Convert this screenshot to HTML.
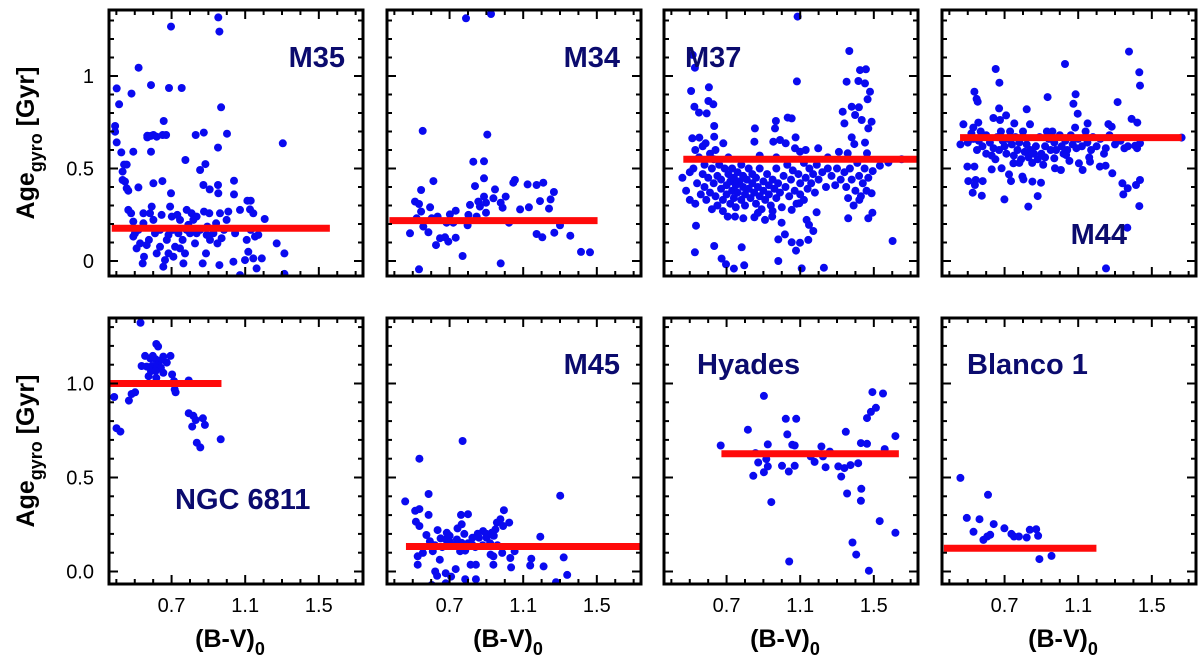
<!DOCTYPE html>
<html><head><meta charset="utf-8">
<style>
html,body{margin:0;padding:0;background:#fff;}
svg{display:block;font-family:"Liberation Sans",Arial,sans-serif;}
</style></head>
<body>
<svg id="chart" width="1200" height="666" viewBox="0 0 1200 666" xmlns="http://www.w3.org/2000/svg"></svg>
<script>
// ---- data (B-V)_0 and Age_gyro [Gyr] ----
const clusterNames = ["M35","M34","M37","M44","NGC 6811","M45","Hyades","Blanco 1"];
const meanAges = [0.177,0.218,0.55,0.667,1.0,0.133,0.626,0.124];
const meanFrom = [0.375,0.373,0.465,0.458,0.368,0.463,0.672,0.37];
const meanTo   = [1.56,1.504,1.74,1.662,0.971,1.74,1.636,1.199];
const xTicks = [0.7,1.1,1.5];
const xTickLabels = ["0.7","1.1","1.5"];
const yTicksTop = [0,0.5,1];
const yTickLabelsTop = ["0","0.5","1"];
const yTicksBottom = [0,0.5,1];
const yTickLabelsBottom = ["0.0","0.5","1.0"];

const m35 = [[0.954,1.317],[0.96,1.24],[0.697,1.267],[0.521,1.045],[0.402,0.933],[0.415,0.847],[0.482,0.905],[0.588,0.951],[0.686,0.935],[0.755,0.935],[0.969,0.831],[1.304,0.636],[0.393,0.73],[0.393,0.699],[0.402,0.641],[0.427,0.587],[0.492,0.591],[0.442,0.521],[0.456,0.521],[0.434,0.483],[0.434,0.438],[0.447,0.429],[0.456,0.393],[0.465,0.38],[0.52,0.398],[0.568,0.677],[0.587,0.676],[0.601,0.681],[0.619,0.672],[0.652,0.681],[0.67,0.681],[0.657,0.757],[0.568,0.668],[0.588,0.591],[0.601,0.42],[0.65,0.432],[0.697,0.366],[0.775,0.546],[0.831,0.681],[0.875,0.694],[0.884,0.524],[0.855,0.492],[0.873,0.411],[0.907,0.387],[0.952,0.411],[0.954,0.366],[0.952,0.613],[1.001,0.688],[1.039,0.434],[1.039,0.36],[1.112,0.326],[1.13,0.326],[1.126,0.279],[1.144,0.258],[1.206,0.227],[1.271,0.095],[1.313,0.041],[1.313,-0.07],
[0.465,0.276],[0.48,0.258],[0.492,0.213],[0.501,0.15],[0.51,0.068],[0.529,0.095],[0.543,-0.013],[0.55,0.023],[0.565,0.086],[0.577,0.114],[0.583,0.258],[0.592,0.294],[0.601,0.222],[0.61,0.15],[0.619,0.041],[0.637,0.168],[0.646,0.249],[0.655,-0.031],[0.664,0.005],[0.674,0.114],[0.683,0.141],[0.701,0.24],[0.706,0.168],[0.71,0.023],[0.719,0.077],[0.731,0.249],[0.737,0.15],[0.746,0.222],[0.76,0.114],[0.764,-0.013],[0.773,0.041],[0.782,0.168],[0.791,0.195],[0.8,0.15],[0.809,0.258],[0.818,0.222],[0.827,0.095],[0.836,0.15],[0.855,0.168],[0.869,-0.013],[0.876,0.267],[0.887,0.041],[0.894,0.186],[0.905,0.258],[0.909,0.114],[0.927,0.15],[0.942,0.204],[0.949,0.095],[0.96,-0.022],[0.972,0.123],[0.985,0.168],[0.999,0.222],[1.008,0.267],[1.036,-0.004],[1.045,0.168],[1.072,-0.076],[1.099,0.005],[1.108,0.114],[1.117,0.05],[1.13,0.168],[1.144,0.014],[1.153,0.132],[1.162,-0.04],[1.171,0.141],[1.19,0.014],[0.492,0.132],[0.52,0.168],[0.547,0.204],[0.637,0.077],[0.683,0.041],[0.746,0.068],[0.782,0.276],[0.836,0.24],[0.891,0.141],[0.963,0.258],[1.045,0.15],[1.072,0.276],[0.547,0.258],[0.692,0.294]];

const m34 = [[0.789,1.312],[0.925,1.335],[0.554,0.703],[0.905,0.683],[0.829,0.537],[0.887,0.539],[0.887,0.447],[0.612,0.432],[0.838,0.405],[0.545,0.384],[0.512,0.321],[0.534,0.308],[0.545,0.267],[0.594,0.29],[0.521,0.231],[0.603,0.231],[0.635,0.24],[0.702,0.252],[0.733,0.272],[0.802,0.249],[0.811,0.303],[0.856,0.321],[0.865,0.294],[0.887,0.348],[0.898,0.315],[0.898,0.261],[0.938,0.339],[0.947,0.387],[0.978,0.315],[0.988,0.288],[1.005,0.348],[1.046,0.423],[1.055,0.438],[1.083,0.279],[1.124,0.414],[1.131,0.29],[1.173,0.411],[1.191,0.324],[1.209,0.423],[1.24,0.283],[1.249,0.333],[1.267,0.373],[1.3,0.193],[1.269,0.153],[1.173,0.146],[1.204,0.128],[1.356,0.137],[1.414,0.049],[1.463,0.047],[0.485,0.15],[0.557,0.186],[0.585,0.155],[0.626,0.086],[0.648,0.123],[0.675,0.128],[0.693,0.105],[0.733,0.126],[0.684,0.207],[0.72,0.207],[0.798,0.193],[0.847,0.24],[1.023,0.207],[0.771,0.027],[0.978,-0.013],[0.534,-0.045]];

const m37 = [[1.086,1.321],[1.367,1.135],[0.516,1.114],[0.528,1.045],[1.082,0.971],[0.507,0.919],[0.604,0.939],[1.352,0.969],[1.416,0.973],[1.425,1.032],[1.457,1.036],[1.452,0.96],[1.479,0.915],[0.525,0.834],[0.55,0.802],[0.592,0.798],[0.601,0.865],[0.628,0.847],[0.633,0.73],[0.514,0.663],[0.552,0.667],[0.586,0.636],[0.633,0.672],[0.682,0.636],[0.854,0.717],[0.851,0.645],[0.963,0.717],[0.968,0.757],[1.032,0.775],[1.054,0.771],[1.075,0.668],[0.954,0.645],[0.99,0.654],[1.021,0.636],[1.072,0.609],[1.099,0.591],[1.198,0.609],[1.331,0.807],[1.34,0.744],[1.38,0.834],[1.398,0.789],[1.419,0.831],[1.466,0.874],[1.434,0.762],[1.47,0.717],[1.488,0.753],[1.38,0.668],[1.394,0.632],[1.452,0.64],[1.358,0.582],[1.463,0.582],
[0.534,0.191],[0.528,0.047],[0.633,0.081],[0.673,0.013],[0.697,-0.018],[0.74,-0.041],[0.782,0.074],[0.796,-0.023],[0.981,0.117],[0.981,0],[1.017,0.144],[1.054,0.101],[1.077,0.056],[1.099,0.099],[1.108,-0.04],[1.144,0.114],[1.171,0.162],[1.189,0.263],[1.229,-0.036],[1.602,0.108],[1.361,0.231],[1.47,0.231],[1.492,0.261],[1.488,0.366],[1.421,0.33],[1.494,0.486],[1.533,0.515],[1.579,0.532],[1.651,0.55],[0.706,0.24],[0.746,0.24],[0.791,0.231],[0.851,0.236],[0.909,0.222],[0.948,0.24],[0.999,0.207],[1.054,0.276],[1.095,0.312],[1.135,0.222],[1.148,0.195],
[0.46,0.45],[0.48,0.38],[0.5,0.48],[0.5,0.33],[0.52,0.5],[0.53,0.31],[0.54,0.42],[0.55,0.56],[0.56,0.36],[0.57,0.47],[0.58,0.52],[0.58,0.4],[0.59,0.33],[0.6,0.45],[0.61,0.58],[0.61,0.37],[0.62,0.5],[0.63,0.42],[0.63,0.55],[0.64,0.35],[0.65,0.46],[0.65,0.3],[0.66,0.52],[0.67,0.39],[0.67,0.44],[0.68,0.33],[0.68,0.27],[0.69,0.5],[0.7,0.41],[0.7,0.36],[0.71,0.47],[0.71,0.56],[0.72,0.31],[0.72,0.43],[0.73,0.38],[0.73,0.5],[0.74,0.34],[0.74,0.45],[0.75,0.41],[0.75,0.29],[0.76,0.48],[0.76,0.37],[0.77,0.43],[0.78,0.33],[0.78,0.52],[0.79,0.4],[0.79,0.46],[0.8,0.36],[0.8,0.3],[0.81,0.44],[0.82,0.39],[0.82,0.5],[0.83,0.34],[0.84,0.42],[0.84,0.47],[0.85,0.37],[0.86,0.31],[0.86,0.45],[0.87,0.4],[0.88,0.35],[0.88,0.5],[0.89,0.28],[0.9,0.43],[0.9,0.38],[0.91,0.33],[0.92,0.47],[0.93,0.41],[0.93,0.36],[0.94,0.3],[0.95,0.44],[0.96,0.39],[0.97,0.34],[0.97,0.5],[0.98,0.42],[0.99,0.37],[1.0,0.29],[1.01,0.46],[1.02,0.4],[1.03,0.52],[1.04,0.35],[1.05,0.44],[1.06,0.49],[1.07,0.38],[1.08,0.31],[1.09,0.47],[1.1,0.42],[1.12,0.53],[1.13,0.45],[1.14,0.39],[1.15,0.5],[1.16,0.42],[1.17,0.47],[1.18,0.37],[1.19,0.52],[1.2,0.44],[1.22,0.48],[1.24,0.4],[1.25,0.5],[1.27,0.46],[1.29,0.41],[1.3,0.5],[1.32,0.44],[1.34,0.48],[1.35,0.4],[1.36,0.34],[1.37,0.5],[1.38,0.44],[1.39,0.3],[1.4,0.38],[1.41,0.53],[1.42,0.46],[1.43,0.35],[1.44,0.42],[1.45,0.5],[1.46,0.38],[1.47,0.45],[1.1,0.36],[1.12,0.33],[0.95,0.27],[0.87,0.26],[0.62,0.28],[0.53,0.6],[0.57,0.62],[0.64,0.6],[0.88,0.57],[0.97,0.56],[1.13,0.6],[1.25,0.56],[1.31,0.59]];

const m44 = [[1.376,1.132],[1.028,1.065],[0.652,1.038],[1.432,1.02],[0.672,0.964],[1.436,0.948],[0.536,0.915],[0.934,0.886],[1.086,0.901],[0.548,0.876],[0.554,0.861],[1.314,0.859],[1.074,0.85],[0.67,0.825],[0.82,0.82],[1.097,0.796],[0.708,0.787],[0.639,0.773],[0.675,0.762],[1.39,0.768],[1.421,0.748],[0.476,0.739],[0.557,0.748],[0.753,0.744],[0.838,0.739],[1.151,0.744],[1.264,0.74],[1.282,0.726],[0.53,0.721],[1.083,0.721],
[0.498,0.51],[0.503,0.432],[0.536,0.51],[0.543,0.438],[0.539,0.411],[0.581,0.432],[0.527,0.369],[0.576,0.353],[0.63,0.495],[0.684,0.501],[0.699,0.333],[0.724,0.468],[0.735,0.432],[0.748,0.528],[0.797,0.456],[0.802,0.441],[0.829,0.294],[0.851,0.429],[0.88,0.351],[0.898,0.423],[0.97,0.555],[0.974,0.501],[1.006,0.492],[1.034,0.573],[1.052,0.541],[1.104,0.528],[1.124,0.492],[1.164,0.537],[1.218,0.51],[1.249,0.515],[1.285,0.474],[1.34,0.42],[1.345,0.36],[1.369,0.393],[1.414,0.411],[1.436,0.438],[1.432,0.297],[1.367,0.18],[1.251,-0.04],[1.351,0.609],[1.409,0.623],[1.436,0.636],[1.662,0.667],
[0.46,0.63],[0.5,0.64],[0.52,0.69],[0.55,0.6],[0.56,0.65],[0.57,0.7],[0.58,0.62],[0.6,0.58],[0.6,0.68],[0.62,0.64],[0.63,0.57],[0.64,0.61],[0.66,0.67],[0.67,0.6],[0.68,0.7],[0.69,0.65],[0.7,0.62],[0.71,0.58],[0.72,0.66],[0.73,0.7],[0.74,0.63],[0.75,0.57],[0.76,0.67],[0.77,0.6],[0.78,0.64],[0.79,0.55],[0.8,0.7],[0.81,0.59],[0.82,0.63],[0.83,0.56],[0.84,0.6],[0.85,0.53],[0.86,0.58],[0.87,0.62],[0.88,0.55],[0.89,0.67],[0.9,0.58],[0.91,0.52],[0.92,0.62],[0.93,0.7],[0.94,0.66],[0.95,0.6],[0.96,0.7],[0.97,0.64],[0.98,0.6],[1.0,0.68],[1.01,0.62],[1.03,0.65],[1.04,0.6],[1.06,0.68],[1.07,0.63],[1.09,0.61],[1.1,0.66],[1.12,0.62],[1.14,0.7],[1.15,0.64],[1.17,0.6],[1.18,0.67],[1.2,0.62],[1.22,0.66],[1.25,0.61],[1.27,0.68],[1.3,0.63],[1.33,0.65],[1.37,0.62],[1.42,0.61],[0.53,0.66],[0.65,0.55],[0.78,0.53],[0.92,0.56],[1.02,0.58],[1.16,0.56],[1.24,0.58]];

const ngc6811 = [[0.531,1.323],[0.617,1.21],[0.627,1.197],[0.556,1.147],[0.585,1.133],[0.598,1.147],[0.655,1.143],[0.694,1.147],[0.674,1.111],[0.613,1.129],[0.636,1.12],[0.537,1.093],[0.565,1.09],[0.594,1.093],[0.623,1.097],[0.642,1.084],[0.588,1.066],[0.613,1.066],[0.655,1.057],[0.575,1.039],[0.617,1.03],[0.703,1.048],[0.713,1.013],[0.793,1.016],[0.717,0.968],[0.722,0.953],[0.502,0.953],[0.483,0.944],[0.468,0.909],[0.388,0.928],[0.793,0.842],[0.818,0.828],[0.831,0.806],[0.87,0.815],[0.881,0.78],[0.812,0.771],[0.837,0.685],[0.856,0.66],[0.967,0.703],[0.401,0.762],[0.422,0.744]];

const m45 = [[0.771,0.694],[0.536,0.6],[0.459,0.373],[0.586,0.412],[1.301,0.403],[0.513,0.323],[0.536,0.332],[0.517,0.265],[0.586,0.301],[0.536,0.242],[0.574,0.194],[0.635,0.22],[0.685,0.206],[0.762,0.301],[0.8,0.305],[0.766,0.251],[0.743,0.229],[0.995,0.326],[0.976,0.278],[0.957,0.26],[1.024,0.26],[0.991,0.242],[0.949,0.224],[0.929,0.206],[0.882,0.215],[0.853,0.201],[0.824,0.179],[0.901,0.179],[1.193,0.185],[0.593,0.161],[0.651,0.176],[0.699,0.161],[0.766,0.152],[0.823,0.143],[0.527,0.081],[0.555,0.099],[0.527,0.036],[0.609,0.108],[0.647,0.063],[0.757,0.108],[0.785,0.111],[0.814,0.036],[0.843,0.036],[0.923,0.09],[0.938,0.081],[0.986,0.099],[1.03,0.072],[1.053,0.108],[1.034,0.022],[0.938,0.036],[1.138,0.032],[1.144,0.068],[1.211,0.027],[1.32,0.075],[1.339,-0.018],[1.278,-0.057],[0.622,0],[0.632,-0.023],[0.679,-0.009],[0.708,-0.027],[0.733,0.013],[0.785,-0.041],[0.843,-0.041],[0.679,-0.063],[0.603,-0.072],[0.62,0.14],[0.66,0.13],[0.7,0.19],[0.72,0.14],[0.74,0.17],[0.78,0.2],[0.8,0.15],[0.84,0.13],[0.86,0.18],[0.88,0.14],[0.9,0.2],[0.92,0.15],[0.94,0.19],[0.96,0.14],[0.68,0.17],[0.76,0.12]];

const hyades = [[0.668,0.67],[0.816,0.754],[0.903,0.934],[0.845,0.509],[0.872,0.58],[0.903,0.528],[0.916,0.598],[0.924,0.676],[0.924,0.559],[0.943,0.369],[1.001,0.562],[1.022,0.812],[1.03,0.729],[1.038,0.532],[1.04,0.053],[1.057,0.674],[1.07,0.67],[1.07,0.562],[1.078,0.812],[0.857,0.63],[1.157,0.612],[1.178,0.583],[1.215,0.665],[1.224,0.612],[1.238,0.555],[1.261,0.638],[1.307,0.559],[1.323,0.505],[1.34,0.55],[1.348,0.743],[1.355,0.415],[1.373,0.566],[1.384,0.154],[1.404,0.09],[1.415,0.576],[1.43,0.683],[1.432,0.44],[1.43,0.376],[1.463,0.679],[1.463,0.816],[1.484,0.849],[1.492,0.954],[1.511,0.871],[1.532,0.268],[1.55,0.947],[1.559,0.651],[1.473,0.004],[1.617,0.72],[1.617,0.206]];

const blanco1 = [[0.46,0.498],[0.61,0.408],[0.495,0.285],[0.564,0.278],[0.531,0.211],[0.585,0.168],[0.606,0.186],[0.622,0.195],[0.641,0.252],[0.699,0.23],[0.737,0.2],[0.751,0.186],[0.778,0.186],[0.82,0.181],[0.837,0.222],[0.872,0.225],[0.882,0.19],[0.889,0.066],[0.955,0.083]];

const allSeries = [m35,m34,m37,m44,ngc6811,m45,hyades,blanco1];

// ---- layout ----
const NS = "http://www.w3.org/2000/svg";
const svg = document.getElementById("chart");
const panelLefts = [109,387,664,942];
const rowTops = [10,318];
const PW = 254, PH = 266;
const X0 = 0.36, X1 = 1.74;
const rowY0 = [261, 571.5];     // pixel of age 0
const rowPerUnit = [185, 188];  // pixels per Gyr
const labelPos = [
  {x:345,y:67,a:"end"},{x:620,y:67,a:"end"},{x:685,y:67,a:"start"},{x:1127,y:244,a:"end"},
  {x:175,y:509,a:"start"},{x:620,y:374,a:"end"},{x:697,y:374,a:"start"},{x:967,y:374,a:"start"}
];

function el(tag, attrs, parent){
  const e = document.createElementNS(NS, tag);
  for (const k in attrs) e.setAttribute(k, attrs[k]);
  (parent||svg).appendChild(e);
  return e;
}
function xScale(i, v){ return panelLefts[i%4] + (v - X0)/(X1 - X0)*PW; }
function yScale(i, v){ const r = Math.floor(i/4); return rowY0[r] - v*rowPerUnit[r]; }

for (let i=0;i<8;i++){
  const r = Math.floor(i/4), c = i%4;
  const L = panelLefts[c], T = rowTops[r];
  const g = el("g", {});
  
  
  const clipId = "clip"+i;
  const cp = el("clipPath", {id:clipId}, g);
  el("rect", {x:L, y:T, width:PW, height:PH}, cp);
  const plot = el("g", {"clip-path":"url(#"+clipId+")"}, g);

  // points
  allSeries[i].forEach(p=>{
    const dot = el("circle", {cx:xScale(i,p[0]).toFixed(1), cy:yScale(i,p[1]).toFixed(1), r:4, fill:"#0a0aef"}, plot);
    
    
  });
  // mean line
  const ln = el("line", {x1:xScale(i,meanFrom[i]), x2:xScale(i,meanTo[i]), y1:yScale(i,meanAges[i]), y2:yScale(i,meanAges[i]), stroke:"#ff0a0a", "stroke-width":7}, plot);
  
  

  // ticks
  const tk = el("g", {stroke:"#000","stroke-width":2}, g);
  
  
  for (let k=4;k<=17;k++){
    const v = k/10;
    if (v < X0 || v > X1) continue;
    const major = (k===3||k===7||k===11||k===15);
    const len = major?9:5;
    const x = xScale(i,v);
    el("line",{x1:x,x2:x,y1:T+PH,y2:T+PH-len},tk);
    el("line",{x1:x,x2:x,y1:T,y2:T+len},tk);
  }
  for (let k=-1;k<=13;k++){
    const v = k/10;
    const y = yScale(i,v);
    if (y < T+1 || y > T+PH-1) continue;
    const major = (k%5===0);
    const len = major?9:5;
    el("line",{x1:L,x2:L+len,y1:y,y2:y},tk);
    el("line",{x1:L+PW,x2:L+PW-len,y1:y,y2:y},tk);
  }
  // frame
  const fr = el("rect", {x:L, y:T, width:PW, height:PH, fill:"none", stroke:"#000", "stroke-width":3}, g);
  
  

  // cluster label
  const lp = labelPos[i];
  const lt = el("text", {x:lp.x, y:lp.y, "text-anchor":lp.a, "font-size":29, "font-weight":"bold", fill:"#0b0b6e"}, g);
  lt.textContent = clusterNames[i];
  
  

  // y tick labels (first column only)
  if (c===0){
    const vals = r===0?yTicksTop:yTicksBottom;
    const labs = r===0?yTickLabelsTop:yTickLabelsBottom;
    vals.forEach((v,j)=>{
      const t = el("text", {x:94, y:yScale(i,v)+7, "text-anchor":"end", "font-size":20, fill:"#000"}, g);
      t.textContent = labs[j];
      
      
    });
    const yt = el("text", {transform:"translate(34,"+(T+133)+") rotate(-90)", "text-anchor":"middle", "font-size":25, "font-weight":"bold", fill:"#000"}, g);
    
    
    yt.innerHTML = 'Age<tspan font-size="18" dy="8">gyro</tspan><tspan dy="-8"> [Gyr]</tspan>';
  }
  // x tick labels (bottom row)
  if (r===1){
    xTicks.forEach((v,j)=>{
      const t = el("text", {x:xScale(i,v), y:612, "text-anchor":"middle", "font-size":20, fill:"#000"}, g);
      t.textContent = xTickLabels[j];
      
      
    });
    const xt = el("text", {x:L+PW/2-6, y:647, "text-anchor":"middle", "font-size":25, "font-weight":"bold", fill:"#000"}, g);
    
    
    xt.innerHTML = '(B-V)<tspan font-size="18" dy="8">0</tspan>';
  }
}
</script>
</body></html>
